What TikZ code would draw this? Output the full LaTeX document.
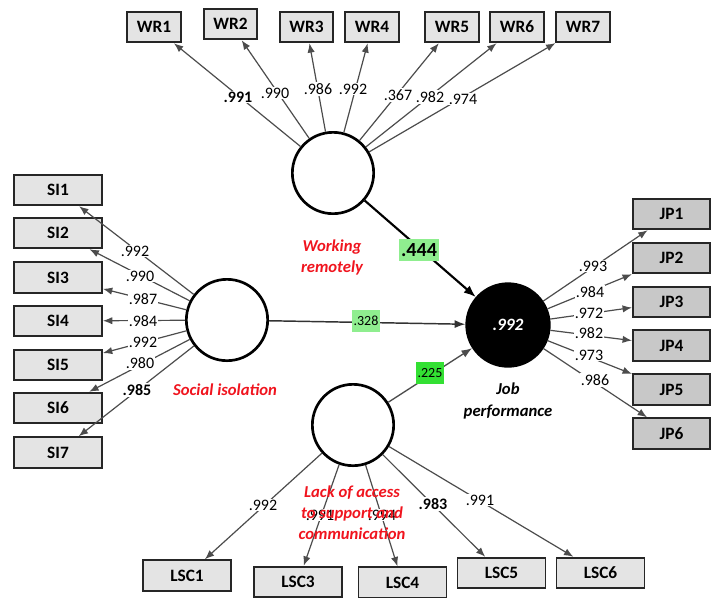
\documentclass[tikz,border=0pt]{standalone}
\usepackage{fontspec}
\setmainfont{Carlito}
\usetikzlibrary{arrows.meta}
\definecolor{boxfill}{HTML}{E4E4E4}
\definecolor{jpfill}{HTML}{C8C8C8}
\definecolor{lgreen}{HTML}{8FEE8F}
\definecolor{bgreen}{HTML}{33E033}
\definecolor{redtxt}{HTML}{F0141E}
\begin{document}
\begin{tikzpicture}[x=0.75pt,y=-0.75pt,
  ind/.style={draw=black!85, line width=1.4pt, fill=boxfill, inner sep=0pt,
    minimum height=23pt, font=\fontsize{13}{15}\selectfont\bfseries},
  wrbox/.style={ind, minimum width=40pt},
  sibox/.style={ind, minimum width=66pt},
  jpbox/.style={ind, fill=jpfill, minimum width=58pt},
  lv/.style={circle, draw, line width=2pt, minimum size=61pt, inner sep=0pt, fill=white},
  ld/.style={draw=black!70, line width=0.9pt, -{Latex[length=7pt,width=5.5pt]}},
  lab/.style={fill=white, inner sep=0.8pt, font=\fontsize{12}{14}\selectfont},
  blab/.style={lab, font=\fontsize{12}{14}\selectfont\bfseries},
  rname/.style={text=redtxt, align=center, font=\fontsize{12.5}{15.75}\selectfont\bfseries\itshape},
  coef/.style={inner sep=1.5pt, minimum height=16pt}
]
\useasboundingbox (0,0) rectangle (712,597);

% latent variables
\node[lv] (wr) at (333,173) {};
\node[lv] (si) at (227,320) {};
\node[lv, fill=black, minimum size=62pt, text=white, font=\fontsize{13}{15}\selectfont\bfseries\itshape] (jp) at (508,325) {.992};
\node[lv] (lsc) at (353,425) {};

% WR indicators
\node[wrbox] (wr1) at (154,27) {WR1};
\node[wrbox] (wr2) at (230.5,24) {WR2};
\node[wrbox] (wr3) at (306.5,27) {WR3};
\node[wrbox] (wr4) at (372,27) {WR4};
\node[wrbox] (wr5) at (452,27) {WR5};
\node[wrbox] (wr6) at (517,27) {WR6};
\node[wrbox] (wr7) at (583,27) {WR7};

% SI indicators
\node[sibox] (si1) at (58,190) {SI1};
\node[sibox] (si2) at (58,233) {SI2};
\node[sibox] (si3) at (58,277.5) {SI3};
\node[sibox] (si4) at (58,321) {SI4};
\node[sibox] (si5) at (58,365) {SI5};
\node[sibox] (si6) at (58,408) {SI6};
\node[sibox] (si7) at (58,452.5) {SI7};

% JP indicators
\node[jpbox] (jp1) at (671.5,214) {JP1};
\node[jpbox] (jp2) at (671.5,258) {JP2};
\node[jpbox] (jp3) at (671.5,302) {JP3};
\node[jpbox] (jp4) at (671.5,345.5) {JP4};
\node[jpbox] (jp5) at (671.5,389.5) {JP5};
\node[jpbox] (jp6) at (671.5,433.5) {JP6};

% LSC indicators
\node[sibox] (lsc1) at (187,575.5) {LSC1};
\node[sibox] (lsc3) at (298,582) {LSC3};
\node[sibox] (lsc4) at (402.5,582.5) {LSC4};
\node[sibox] (lsc5) at (501.5,573) {LSC5};
\node[sibox] (lsc6) at (600.5,573) {LSC6};

% loadings lines
\foreach \t in {wr1,wr2,wr3,wr4,wr5,wr6,wr7} \draw[ld] (wr) -- (\t);
\foreach \t in {si1,si2,si3,si4,si5,si6,si7} \draw[ld] (si) -- (\t);
\foreach \t in {jp1,jp2,jp3,jp4,jp5,jp6} \draw[ld] (jp) -- (\t);
\foreach \t in {lsc1,lsc3,lsc4,lsc5,lsc6} \draw[ld] (lsc) -- (\t);

% structural paths
\draw[line width=1.6pt, -{Latex[length=9pt,width=7pt]}] (wr) -- (jp);
\draw[draw=black!80, line width=1.1pt, -{Latex[length=8pt,width=6pt]}] (si) -- (jp);
\draw[draw=black!70, line width=1pt, -{Latex[length=8pt,width=6pt]}] (lsc) -- (jp);

% path coefficients
\node[coef, fill=lgreen, font=\fontsize{15}{17}\selectfont\bfseries] (c1) at (419,250) {.444};
\node[coef, fill=lgreen, font=\fontsize{10.5}{12}\selectfont] (c2) at (366,321) {.328};
\node[coef, fill=bgreen, font=\fontsize{10.5}{12}\selectfont] (c3) at (430,373) {.225};

% WR loadings
\node[blab] (lw1) at (238,97) {.991};
\node[lab] (lw2) at (275,93) {.990};
\node[lab] (lw3) at (318,89) {.986};
\node[lab] (lw4) at (353,89) {.992};
\node[lab] (lw5) at (398,95) {.367};
\node[lab] (lw6) at (430,97) {.982};
\node[lab] (lw7) at (463,99) {.974};

% SI loadings
\node[lab] (ls1) at (135,251) {.992};
\node[lab] (ls2) at (140,276) {.990};
\node[lab] (ls3) at (143,299) {.987};
\node[lab] (ls4) at (143,321) {.984};
\node[lab] (ls5) at (143,342) {.992};
\node[lab] (ls6) at (140,363) {.980};
\node[blab] (ls7) at (137,390) {.985};

% JP loadings
\node[lab] (lj1) at (593,266) {.993};
\node[lab] (lj2) at (590,292) {.984};
\node[lab] (lj3) at (589,313) {.972};
\node[lab] (lj4) at (589,333) {.982};
\node[lab] (lj5) at (589,355) {.973};
\node[lab] (lj6) at (595,380) {.986};

% LSC loadings
\node[lab] (ll1) at (263,505) {.992};
\node[lab] (ll3) at (320,515) {.991};
\node[lab] (ll4) at (382,515) {.994};
\node[blab] (ll5) at (433,504) {.983};
\node[lab] (ll6) at (480,500) {.991};

% construct names
\node[rname] (nwr) at (332,257) {Working\\remotely};
\node[rname] (nsi) at (225,390) {Social isolation};
\node[rname] (nlsc) at (352,513) {Lack of access\\to support and\\communication};
\node[align=center, font=\fontsize{12.5}{17}\selectfont\bfseries\itshape] (njp) at (508,401) {Job\\performance};
\end{tikzpicture}
\end{document}
